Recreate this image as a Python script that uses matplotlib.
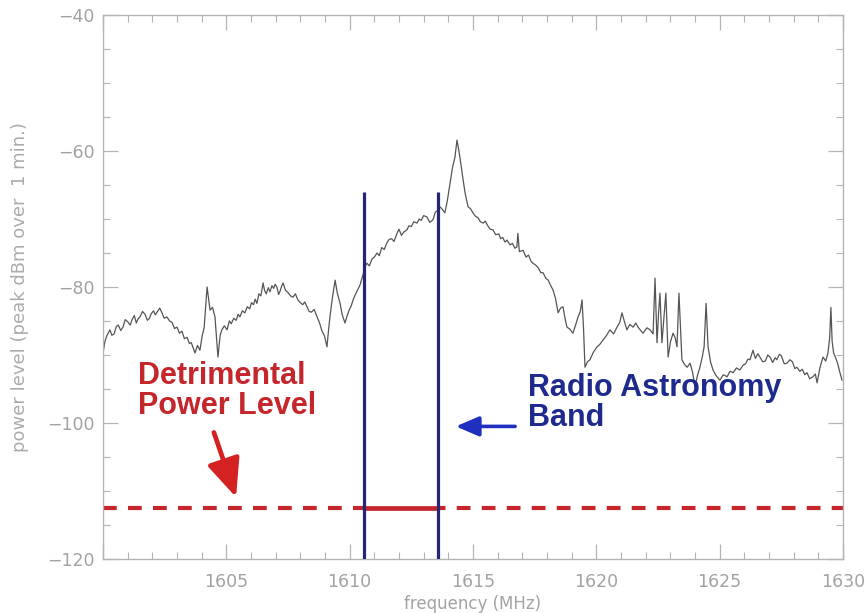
import matplotlib.pyplot as plt
from matplotlib.ticker import MultipleLocator

# spectrum trace (MHz, peak dBm over 1 min)
freq = [1600.00, 1600.08, 1600.15, 1600.28, 1600.36, 1600.45, 1600.54, 1600.62, 1600.72,
        1600.81, 1600.90, 1601.00, 1601.10, 1601.18, 1601.27, 1601.35, 1601.42, 1601.50,
        1601.60, 1601.70, 1601.80, 1601.88, 1601.96, 1602.05, 1602.12, 1602.19, 1602.30,
        1602.39, 1602.48, 1602.59, 1602.70, 1602.80, 1602.90, 1603.00, 1603.10, 1603.20,
        1603.30, 1603.41, 1603.50, 1603.58, 1603.66, 1603.73, 1603.83, 1603.93, 1604.02,
        1604.10, 1604.22, 1604.34, 1604.44, 1604.54, 1604.66, 1604.75, 1604.82, 1604.92,
        1605.03, 1605.12, 1605.20, 1605.30, 1605.40, 1605.48, 1605.55, 1605.65, 1605.75,
        1605.85, 1605.95, 1606.02, 1606.10, 1606.17, 1606.24, 1606.32, 1606.40, 1606.49,
        1606.55, 1606.62, 1606.70, 1606.77, 1606.85, 1606.92, 1606.98, 1607.05, 1607.12,
        1607.18, 1607.24, 1607.30, 1607.40, 1607.50, 1607.60, 1607.70, 1607.80, 1607.90,
        1608.00, 1608.10, 1608.18, 1608.27, 1608.36, 1608.45, 1608.56, 1608.68, 1608.78,
        1608.88, 1608.98, 1609.08, 1609.14, 1609.20, 1609.30, 1609.41, 1609.50, 1609.61,
        1609.70, 1609.81, 1609.90, 1609.98, 1610.06, 1610.14, 1610.22, 1610.30, 1610.42,
        1610.55, 1610.62, 1610.70, 1610.80, 1610.90, 1611.00, 1611.11, 1611.20, 1611.30,
        1611.40, 1611.51, 1611.60, 1611.70, 1611.80, 1611.92, 1612.00, 1612.10, 1612.20,
        1612.32, 1612.40, 1612.50, 1612.60, 1612.73, 1612.82, 1612.90, 1613.00, 1613.13,
        1613.25, 1613.38, 1613.47, 1613.55, 1613.66, 1613.76, 1613.86, 1613.96, 1614.07,
        1614.17, 1614.27, 1614.35, 1614.41, 1614.47, 1614.57, 1614.68, 1614.80, 1614.90,
        1615.00, 1615.10, 1615.20, 1615.30, 1615.41, 1615.50, 1615.60, 1615.70, 1615.81,
        1615.92, 1616.05, 1616.12, 1616.20, 1616.30, 1616.38, 1616.50, 1616.60, 1616.70,
        1616.78, 1616.82, 1616.88, 1617.03, 1617.15, 1617.25, 1617.35, 1617.43, 1617.55,
        1617.65, 1617.75, 1617.84, 1617.95, 1618.05, 1618.15, 1618.24, 1618.34, 1618.45,
        1618.55, 1618.65, 1618.73, 1618.81, 1618.93, 1619.05, 1619.15, 1619.26, 1619.35,
        1619.42, 1619.48, 1619.54, 1619.64, 1619.74, 1619.88, 1620.03, 1620.15, 1620.27,
        1620.40, 1620.55, 1620.70, 1620.84, 1620.95, 1621.04, 1621.14, 1621.24, 1621.36,
        1621.49, 1621.60, 1621.69, 1621.80, 1621.89, 1622.05, 1622.18, 1622.30, 1622.38,
        1622.46, 1622.52, 1622.58, 1622.66, 1622.74, 1622.82, 1622.91, 1623.01, 1623.11,
        1623.20, 1623.27, 1623.35, 1623.47, 1623.58, 1623.68, 1623.80, 1623.90, 1624.00,
        1624.10, 1624.20, 1624.30, 1624.37, 1624.45, 1624.53, 1624.63, 1624.73, 1624.85,
        1625.01, 1625.15, 1625.30, 1625.42, 1625.55, 1625.68, 1625.82, 1625.95, 1626.05,
        1626.15, 1626.23, 1626.35, 1626.45, 1626.55, 1626.63, 1626.75, 1626.85, 1626.95,
        1627.04, 1627.15, 1627.25, 1627.32, 1627.42, 1627.50, 1627.62, 1627.73, 1627.85,
        1627.95, 1628.05, 1628.13, 1628.25, 1628.35, 1628.45, 1628.54, 1628.65, 1628.78,
        1628.88, 1628.95, 1629.07, 1629.19, 1629.30, 1629.39, 1629.46, 1629.51, 1629.56,
        1629.62, 1629.70, 1629.78, 1629.87, 1629.96]
power = [-89.7, -88.0, -87.2, -86.3, -87.1, -86.9, -85.8, -85.6, -86.4,
         -85.9, -84.8, -85.1, -85.6, -84.8, -84.2, -85.3, -84.7, -84.4,
         -83.6, -84.0, -84.9, -84.6, -83.9, -83.5, -84.1, -83.7, -83.1,
         -83.8, -84.6, -84.4, -85.0, -85.2, -86.1, -85.9, -86.8, -86.5,
         -87.6, -87.4, -88.3, -88.2, -89.0, -89.7, -88.6, -89.3, -87.2,
         -86.0, -80.0, -83.4, -83.0, -84.4, -90.3, -87.1, -86.3, -85.7,
         -86.3, -85.0, -85.4, -84.6, -84.9, -84.0, -84.4, -83.5, -83.8,
         -82.9, -83.2, -82.3, -82.6, -81.8, -82.4, -81.0, -81.3, -79.4,
         -80.5, -81.0, -80.1, -80.7, -79.8, -80.2, -79.6, -80.0, -81.1,
         -80.6, -79.9, -79.4, -80.5, -80.8, -81.3, -81.5, -81.0, -81.9,
         -82.3, -82.6, -82.2, -82.9, -83.6, -83.7, -83.3, -84.4, -85.3,
         -86.5, -87.2, -88.8, -86.5, -84.4, -81.6, -79.0, -80.9, -82.4,
         -84.1, -85.3, -84.2, -83.4, -82.8, -81.9, -81.2, -80.6, -79.7,
         -78.1, -77.0, -76.5, -76.9, -75.9, -75.6, -75.0, -75.4, -74.2,
         -74.5, -73.5, -73.0, -72.9, -73.3, -72.1, -71.5, -72.4, -71.9,
         -71.6, -71.0, -71.1, -70.4, -70.6, -70.0, -70.2, -69.5, -69.7,
         -70.5, -70.1, -69.0, -68.8, -68.2, -68.6, -69.1, -67.3, -64.7,
         -62.4, -60.9, -58.4, -59.6, -60.9, -63.5, -66.2, -68.2, -68.5,
         -69.1, -69.6, -69.8, -70.4, -70.6, -70.3, -71.0, -71.5, -71.6,
         -72.3, -72.2, -72.9, -72.7, -73.4, -73.1, -73.8, -73.6, -74.3,
         -74.1, -72.1, -74.8, -74.6, -75.6, -75.3, -76.2, -76.5, -76.8,
         -77.2, -77.9, -77.9, -78.7, -79.0, -79.8, -80.4, -81.6, -83.8,
         -83.1, -82.9, -84.6, -85.9, -86.2, -86.8, -85.7, -84.4, -83.6,
         -81.9, -86.0, -91.8, -91.0, -90.7, -89.6, -88.8, -88.4, -87.8,
         -87.2, -86.3, -86.9, -85.9, -85.2, -83.8, -85.1, -86.3, -85.5,
         -85.9, -85.3, -85.9, -86.4, -86.8, -86.0, -86.3, -86.9, -78.7,
         -88.2, -84.0, -80.9, -88.2, -84.5, -80.9, -90.3, -88.0, -86.8,
         -87.5, -88.8, -80.9, -90.7, -91.4, -91.8, -91.2, -92.5, -94.7,
         -93.0, -91.8, -90.2, -88.8, -82.4, -88.8, -91.0, -92.2, -93.0,
         -93.7, -92.9, -93.2, -92.4, -92.6, -91.9, -92.2, -91.5, -91.3,
         -90.6, -90.7, -89.3, -90.5, -89.8, -90.3, -91.0, -90.9, -90.0,
         -90.3, -91.1, -90.4, -90.7, -89.9, -90.1, -91.3, -91.2, -90.7,
         -91.0, -92.0, -91.8, -92.4, -92.1, -92.9, -92.6, -93.5, -93.2,
         -92.8, -94.1, -91.8, -90.3, -90.9, -89.7, -87.5, -83.0, -88.0,
         -89.7, -90.4, -91.2, -92.5, -93.7]

band_lo = 1610.6
band_hi = 1613.6
band_top = -66
detrimental = -112.5

xticks = [1600, 1605, 1610, 1615, 1620, 1625, 1630]
xtick_labels = ['', '1605', '1610', '1615', '1620', '1625', '1630']
yticks = [-120, -100, -80, -60, -40]

axis_grey = '#b4b4b4'
label_grey = '#a2a2a2'
red = '#c4262b'
blue = '#1f2a8e'
navy = '#262676'

fig = plt.figure(figsize=(8.67, 6.13), dpi=100)
ax = fig.add_axes([0.1188, 0.0881, 0.8535, 0.8874])

ax.plot(freq, power, color='#555555', lw=0.9)

# radio astronomy band edges
ax.vlines([band_lo, band_hi], -120, band_top, color=navy, lw=2.3, zorder=3)

# detrimental power level: dashed outside the band, solid inside
ax.plot([1600, band_lo], [detrimental, detrimental], color=red, lw=3,
        linestyle=(0, (3.3, 2.7)), solid_capstyle='butt')
ax.plot([band_hi, 1630], [detrimental, detrimental], color=red, lw=3,
        linestyle=(1.5, (3.3, 2.7)), solid_capstyle='butt')
ax.plot([band_lo, band_hi], [detrimental, detrimental], color=red, lw=3.4,
        solid_capstyle='butt')

ax.text(1601.4, -90.9, 'Detrimental\nPower Level', color=red, fontsize=22,
        fontweight='bold', family='Liberation Sans', va='top', ha='left',
        linespacing=1.0)
ax.annotate('', xy=(1605.43, -111.3), xytext=(1604.46, -101.0),
            arrowprops=dict(arrowstyle='-|>,head_length=0.8,head_width=0.35',
                            color='#d42222', lw=3.4, mutation_scale=29))

ax.text(1617.25, -92.6, 'Radio Astronomy\nBand', color=blue, fontsize=22,
        fontweight='bold', family='Liberation Sans', va='top', ha='left',
        linespacing=1.0)
ax.annotate('', xy=(1614.19, -100.5), xytext=(1616.82, -100.5),
            arrowprops=dict(arrowstyle='-|>,head_length=0.7,head_width=0.3',
                            color='#1f2fc0', lw=2.6, mutation_scale=20))

ax.set_xlim(1600, 1630)
ax.set_ylim(-120, -40)
ax.set_xticks(xticks)
ax.set_xticklabels(xtick_labels)
ax.set_yticks(yticks)
ax.xaxis.set_minor_locator(MultipleLocator(1))
ax.yaxis.set_minor_locator(MultipleLocator(5))
ax.tick_params(which='both', direction='in', top=True, right=True,
               color=axis_grey, labelcolor=label_grey, labelsize=12.5)
ax.tick_params(which='major', length=11, width=0.9)
ax.tick_params(which='minor', length=5, width=0.8)
ax.tick_params(axis='x', pad=10)
ax.tick_params(axis='y', pad=6)
for s in ax.spines.values():
    s.set_color(axis_grey)
    s.set_linewidth(1.0)

ax.set_xlabel('frequency (MHz)', color=label_grey, fontsize=12, labelpad=3)
ax.set_ylabel('power level (peak dBm over  1 min.)', color='#ababab',
              fontsize=13, labelpad=13)

fig.savefig('out.png', dpi=100)
